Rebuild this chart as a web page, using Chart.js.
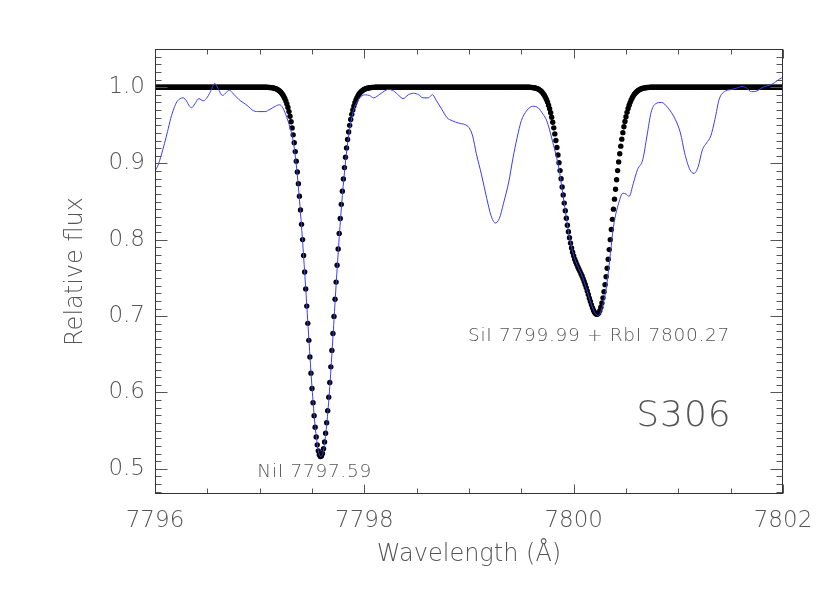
<!DOCTYPE html>
<html>
<head>
<meta charset="utf-8">
<script src="https://cdn.jsdelivr.net/npm/chart.js@4/dist/chart.umd.min.js"></script>
<style>
  html, body { margin: 0; padding: 0; background: #fff; }
  canvas { display: block; }
</style>
</head>
<body>
<canvas id="spectrum" width="830" height="593"></canvas>
<script>
// synthetic spectrum (black dots), one point every 0.01 A
const modelStep = 0.01;

const contAStart = 7796.00; // flat continuum up to 7797.04
const contAFlux = [
  1,1,1,1,1,1,1,1,1,1,1,1,1,1,1,
  1,1,1,1,1,1,1,1,1,1,1,1,1,1,1,
  1,1,1,1,1,1,1,1,1,1,1,1,1,1,1,
  1,1,1,1,1,1,1,1,1,1,1,1,1,1,1,
  1,1,1,1,1,1,1,1,1,1,1,1,1,1,1,
  1,1,1,1,1,1,1,1,1,1,1,1,1,1,1,
  1,1,1,1,1,1,1,1,1,1,1,1,1,1,1
];

const nickelStart = 7797.05; // NiI 7797.59
const nickelFlux = [
  0.9999, 0.9998, 0.9998, 0.9997, 0.9996, 0.9995,
  0.9994, 0.9991, 0.9989, 0.9985, 0.9981, 0.9976, 0.9969, 0.9960, 0.9950, 0.9937,
  0.9921, 0.9902, 0.9879, 0.9851, 0.9818, 0.9779, 0.9733, 0.9680, 0.9618, 0.9547,
  0.9466, 0.9375, 0.9272, 0.9156, 0.9029, 0.8889, 0.8736, 0.8570, 0.8392, 0.8203,
  0.8003, 0.7795, 0.7579, 0.7357, 0.7132, 0.6906, 0.6683, 0.6464, 0.6253, 0.6052,
  0.5866, 0.5696, 0.5546, 0.5417, 0.5314, 0.5235, 0.5184, 0.5161,
  0.5167, 0.5201, 0.5263, 0.5352, 0.5466, 0.5604, 0.5762, 0.5939, 0.6131, 0.6336,
  0.6551, 0.6772, 0.6997, 0.7222, 0.7446, 0.7666, 0.7879, 0.8084, 0.8280, 0.8465,
  0.8638, 0.8798, 0.8946, 0.9081, 0.9204, 0.9314, 0.9413, 0.9500, 0.9577, 0.9644,
  0.9702, 0.9752, 0.9795, 0.9832, 0.9863, 0.9889, 0.9910, 0.9928, 0.9942, 0.9954,
  0.9964, 0.9972, 0.9978, 0.9983, 0.9987, 0.9990, 0.9992, 0.9994,
  0.9996, 0.9997, 0.9997, 0.9998, 0.9998, 0.9999
];

const contCStart = 7798.13; // flat continuum up to 7799.54
const contCFlux = [
  1,1,1,1,1,1,1,1,1,1,1,1,1,1,1,
  1,1,1,1,1,1,1,1,1,1,1,1,1,1,1,
  1,1,1,1,1,1,1,1,1,1,1,1,1,1,1,
  1,1,1,1,1,1,1,1,1,1,1,1,1,1,1,
  1,1,1,1,1,1,1,1,1,1,1,1,1,1,1,
  1,1,1,1,1,1,1,1,1,1,1,1,1,1,1,
  1,1,1,1,1,1,1,1,1,1,1,1,1,1,1,
  1,1,1,1,1,1,1,1,1,1,1,1,1,1,1,
  1,1,1,1,1,1,1,1,1,1,1,1,1,1,1,
  1,1,1,1,1,1,1
];

const blendStart = 7799.55; // SiI 7799.99 + RbI 7800.27
const blendFlux = [
  0.9999, 0.9999, 0.9998, 0.9998, 0.9997,
  0.9996, 0.9994, 0.9992, 0.9989, 0.9986,
  0.9981, 0.9975, 0.9968, 0.9958, 0.9947,
  0.9932, 0.9914, 0.9894, 0.9869, 0.9839,
  0.9805, 0.9764, 0.9718, 0.9666, 0.9606,
  0.9540, 0.9467, 0.9388, 0.9301, 0.9210,
  0.9112, 0.9011, 0.8907, 0.8800, 0.8693,
  0.8587, 0.8481, 0.8380, 0.8283, 0.8191,
  0.8106, 0.8028, 0.7957, 0.7894, 0.7838,
  0.7790, 0.7747, 0.7709, 0.7676, 0.7645,
  0.7616, 0.7587, 0.7557, 0.7526, 0.7492,
  0.7455, 0.7415, 0.7374, 0.7329, 0.7283,
  0.7236, 0.7191, 0.7148, 0.7109, 0.7075,
  0.7049, 0.7032, 0.7025, 0.7028, 0.7045,
  0.7073, 0.7117, 0.7172, 0.7240, 0.7321,
  0.7413, 0.7516, 0.7628, 0.7746, 0.7872,
  0.8002, 0.8135, 0.8268, 0.8402, 0.8533,
  0.8663, 0.8787, 0.8907, 0.9021, 0.9127,
  0.9227, 0.9319, 0.9404, 0.9482, 0.9551,
  0.9614, 0.9670, 0.9720, 0.9763, 0.9801,
  0.9834, 0.9862, 0.9886, 0.9907, 0.9924,
  0.9938, 0.9950, 0.9960, 0.9968, 0.9975,
  0.9980, 0.9985, 0.9988, 0.9991, 0.9993,
  0.9995, 0.9996, 0.9997, 0.9998, 0.9998,
  0.9999
];

const contEStart = 7800.76; // flat continuum up to 7802.00
const contEFlux = [
  1,1,1,1,1,1,1,1,1,1,1,1,1,1,1,
  1,1,1,1,1,1,1,1,1,1,1,1,1,1,1,
  1,1,1,1,1,1,1,1,1,1,1,1,1,1,1,
  1,1,1,1,1,1,1,1,1,1,1,1,1,1,1,
  1,1,1,1,1,1,1,1,1,1,1,1,1,1,1,
  1,1,1,1,1,1,1,1,1,1,1,1,1,1,1,
  1,1,1,1,1,1,1,1,1,1,1,1,1,1,1,
  1,1,1,1,1,1,1,1,1,1,1,1,1,1,1,
  1,1,1,1,1
];

// observed spectrum (blue line)
const obsWave = [
  7796.00, 7796.03, 7796.06, 7796.09, 7796.12, 7796.15, 7796.18, 7796.21, 7796.24, 7796.27,
  7796.30, 7796.33, 7796.35, 7796.38, 7796.42, 7796.46, 7796.49, 7796.53, 7796.57, 7796.61,
  7796.645, 7796.68, 7796.71, 7796.75, 7796.80, 7796.84, 7796.89, 7796.93, 7796.98, 7797.05,
  7797.10, 7797.15, 7797.19, 7797.22, 7797.26, 7797.29, 7797.32, 7797.35, 7797.38, 7797.41,
  7797.44, 7797.47, 7797.50, 7797.53, 7797.56, 7797.585, 7797.61, 7797.64, 7797.67, 7797.70,
  7797.73, 7797.76, 7797.79, 7797.82, 7797.85, 7797.88, 7797.91, 7797.94, 7797.97, 7798.01,
  7798.05, 7798.09, 7798.15, 7798.23, 7798.28, 7798.33, 7798.37, 7798.42, 7798.47, 7798.52,
  7798.56, 7798.61, 7798.65, 7798.69, 7798.74, 7798.79, 7798.84, 7798.90, 7798.96, 7799.00,
  7799.035, 7799.07, 7799.12, 7799.17, 7799.21, 7799.25, 7799.29, 7799.33, 7799.38, 7799.42,
  7799.46, 7799.50, 7799.55, 7799.61, 7799.66, 7799.71, 7799.74, 7799.77, 7799.80, 7799.83,
  7799.86, 7799.89, 7799.92, 7799.95, 7799.98, 7800.01, 7800.04, 7800.07, 7800.10, 7800.13,
  7800.16, 7800.19, 7800.215, 7800.24, 7800.265, 7800.29, 7800.315, 7800.347, 7800.38, 7800.43,
  7800.47, 7800.50, 7800.53, 7800.57, 7800.61, 7800.66, 7800.70, 7800.74, 7800.78, 7800.84,
  7800.90, 7800.97, 7801.02, 7801.06, 7801.11, 7801.15, 7801.19, 7801.23, 7801.27, 7801.31,
  7801.35, 7801.39, 7801.45, 7801.51, 7801.56, 7801.61, 7801.65, 7801.70, 7801.75, 7801.81,
  7801.88, 7801.92, 7801.97, 7802.00
];
const obsFlux = [
  0.890, 0.898, 0.911, 0.926, 0.942, 0.959, 0.972, 0.981, 0.985, 0.986,
  0.982, 0.975, 0.973, 0.978, 0.985, 0.982, 0.985, 0.994, 1.005, 0.996,
  0.989, 0.993, 0.996, 0.991, 0.984, 0.980, 0.975, 0.970, 0.968, 0.968,
  0.971, 0.975, 0.977, 0.973, 0.960, 0.947, 0.930, 0.898, 0.853, 0.798,
  0.736, 0.670, 0.607, 0.556, 0.524, 0.516, 0.524, 0.557, 0.608, 0.672,
  0.740, 0.803, 0.858, 0.902, 0.936, 0.960, 0.975, 0.983, 0.988, 0.990,
  0.989, 0.986, 0.991, 0.997, 0.995, 0.989, 0.985, 0.990, 0.992, 0.990,
  0.986, 0.986, 0.990, 0.982, 0.971, 0.960, 0.956, 0.953, 0.951, 0.947,
  0.936, 0.913, 0.885, 0.854, 0.832, 0.822, 0.828, 0.848, 0.876, 0.907,
  0.934, 0.956, 0.969, 0.975, 0.973, 0.964, 0.957, 0.944, 0.928, 0.912,
  0.893, 0.866, 0.838, 0.811, 0.790, 0.775, 0.765, 0.756, 0.745, 0.732,
  0.719, 0.708, 0.702, 0.701, 0.708, 0.722, 0.740, 0.777, 0.817, 0.848,
  0.861, 0.860, 0.857, 0.874, 0.892, 0.905, 0.936, 0.967, 0.978, 0.980,
  0.973, 0.958, 0.940, 0.914, 0.892, 0.887, 0.896, 0.918, 0.927, 0.936,
  0.958, 0.984, 0.995, 0.997, 0.999, 1.001, 0.999, 0.994, 0.995, 1.000,
  1.003, 1.006, 1.011, 1.013
];

const xMin = 7796, xMax = 7802, xStep = 2;
const yMin = 0.467, yMax = 1.05, yStep = 0.1;

const labelNi = 'NiI 7797.59';
const labelBlend = 'SiI 7799.99 + RbI 7800.27';
const starName = 'S306';

const fontFamily = '"DejaVu Sans", "Liberation Sans", sans-serif';
const textColor = '#555';

const modelPoints = [];
[[contAStart, contAFlux], [nickelStart, nickelFlux], [contCStart, contCFlux],
 [blendStart, blendFlux], [contEStart, contEFlux]].forEach(([start, flux]) => {
  flux.forEach((f, i) => {
    modelPoints.push({x: +(start + i * modelStep).toFixed(2), y: f});
  });
});
const obsPoints = obsWave.map((w, i) => ({x: w, y: obsFlux[i]}));

// IDL style box: frame + inward ticks on all four sides, plus the labels
const frameTicks = {
  id: 'frameTicks',
  afterDatasetsDraw(chart) {
    const {ctx, chartArea: a, scales: {x, y}} = chart;
    const L = a.left + 0.5, R = a.right - 0.5, T = a.top + 0.5, B = a.bottom - 0.5;
    ctx.save();
    ctx.lineWidth = 1;
    ctx.strokeStyle = '#555';
    ctx.beginPath();
    for (let k = 0; k <= 12; k++) {
      const px = Math.round(x.getPixelForValue(xMin + k * 0.5)) + 0.5;
      const len = k % 4 === 0 ? 9 : 5;
      ctx.moveTo(px, B); ctx.lineTo(px, B - len);
      ctx.moveTo(px, T); ctx.lineTo(px, T + len);
    }
    for (let k = 47; k <= 105; k++) {
      const py = Math.round(y.getPixelForValue(k / 100)) + 0.5;
      const len = k % 10 === 0 ? 12 : 6;
      ctx.moveTo(L, py); ctx.lineTo(L + len, py);
      ctx.moveTo(R, py); ctx.lineTo(R - len, py);
    }
    ctx.stroke();
    ctx.strokeStyle = '#333';
    ctx.strokeRect(L, T, R - L, B - T);

    ctx.fillStyle = textColor;
    ctx.textAlign = 'center';
    ctx.textBaseline = 'middle';
    ctx.letterSpacing = '0.7px';
    ctx.font = '200 18.5px ' + fontFamily;
    ctx.fillText(labelNi, x.getPixelForValue(7797.525), y.getPixelForValue(0.496));
    ctx.fillText(labelBlend, x.getPixelForValue(7800.242), y.getPixelForValue(0.674));
    ctx.letterSpacing = '1px';
    ctx.font = '200 36px ' + fontFamily;
    ctx.fillText(starName, x.getPixelForValue(7801.054), y.getPixelForValue(0.568));
    ctx.restore();
  }
};

const tickFont = {family: fontFamily, size: 23, weight: 200};
const titleFont = {family: fontFamily, size: 24, weight: 200};

new Chart(document.getElementById('spectrum'), {
  type: 'scatter',
  data: {
    datasets: [{
      data: obsPoints,
      showLine: true,
      borderColor: '#3c3cf5',
      borderWidth: 1,
      pointRadius: 0,
      cubicInterpolationMode: 'monotone'
    }, {
      data: modelPoints,
      showLine: false,
      pointRadius: 2.7,
      pointBorderWidth: 0,
      pointBackgroundColor: '#000',
      pointHoverRadius: 0
    }]
  },
  options: {
    responsive: false,
    animation: false,
    devicePixelRatio: 1,
    layout: {padding: {left: 0, top: 49, right: 47, bottom: 0}},
    plugins: {legend: {display: false}, tooltip: {enabled: false}},
    scales: {
      x: {
        type: 'linear',
        min: xMin, max: xMax,
        afterFit: s => { s.height = 99; },
        grid: {display: false, drawTicks: false},
        border: {display: false},
        ticks: {stepSize: xStep, padding: 13, color: textColor, font: tickFont,
                maxRotation: 0, callback: v => String(v)},
        title: {display: true, text: 'Wavelength (Å)', color: textColor, font: titleFont,
                padding: {top: 0, bottom: 24}}
      },
      y: {
        type: 'linear',
        min: yMin, max: yMax,
        afterFit: s => { s.width = 155; },
        grid: {display: false, drawTicks: false},
        border: {display: false},
        ticks: {stepSize: yStep, includeBounds: false, padding: 10, color: textColor,
                font: tickFont, callback: v => v.toFixed(1)},
        title: {display: true, text: 'Relative flux', color: textColor, font: titleFont,
                padding: {top: 61, bottom: 0}}
      }
    }
  },
  plugins: [frameTicks]
});
</script>
</body>
</html>
